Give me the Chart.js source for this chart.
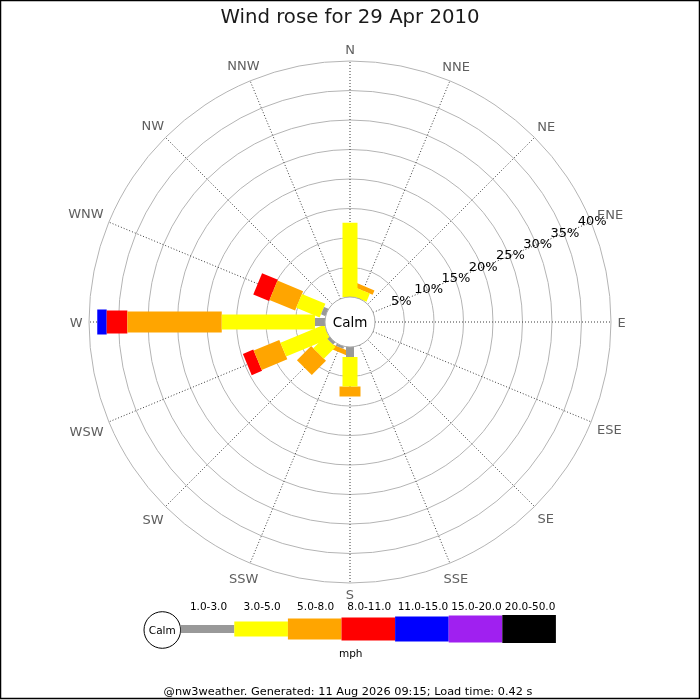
<!DOCTYPE html>
<html><head><meta charset="utf-8">
<script src="https://cdn.jsdelivr.net/npm/chart.js@4.4.1/dist/chart.umd.min.js"></script>
<style>html,body{margin:0;padding:0;background:#fff}canvas{display:block}</style>
</head><body>
<canvas id="c" width="700" height="700"></canvas>
<script>
// ---- data ----
const DIRECTIONS = ['N','NNE','NE','ENE','E','ESE','SE','SSE','S','SSW','SW','WSW','W','WNW','NW','NNW'];
const SPEED_BINS = ['1.0-3.0','3.0-5.0','5.0-8.0','8.0-11.0','11.0-15.0','15.0-20.0','20.0-50.0'];
const PCT_TICKS = [5,10,15,20,25,30,35,40];
//                 N    NNE  NE ENE E ESE SE SSE S    SSW  SW   WSW  W     WNW  NW NNW
const SPEED_1_3   = [0,   0,   0, 0,  0, 0,  0, 0,  1.7, 0.4, 0.5, 0,   1.7,  0.8, 0, 0];
const SPEED_3_5   = [12.6,1.5, 0, 0,  0, 0,  0, 0,  5.0, 0,   2.8, 8.0, 15.8, 4.3, 0, 0];
const SPEED_5_8   = [0,   0.8, 0, 0,  0, 0,  0, 0,  1.7, 0.8, 3.4, 4.7, 16.0, 4.7, 0, 0];
const SPEED_8_11  = [0,   0,   0, 0,  0, 0,  0, 0,  0,   0,   0,   1.9, 3.5,  2.9, 0, 0];
const SPEED_11_15 = [0,   0,   0, 0,  0, 0,  0, 0,  0,   0,   0,   0,   1.6,  0,   0, 0];
const SPEED_15_20 = [0,   0,   0, 0,  0, 0,  0, 0,  0,   0,   0,   0,   0,    0,   0, 0];
const SPEED_20_50 = [0,   0,   0, 0,  0, 0,  0, 0,  0,   0,   0,   0,   0,    0,   0, 0];
const SERIES = [SPEED_1_3, SPEED_3_5, SPEED_5_8, SPEED_8_11, SPEED_11_15, SPEED_15_20, SPEED_20_50];

// ---- style ----
const BIN_COLORS = ['#999999','#ffff00','#ffa500','#ff0000','#0000ff','#a020f0','#000000'];
const BIN_WIDTHS = [8,15,21,23,25,27,28];
const FONT = "'DejaVu Sans', 'Liberation Sans', sans-serif";
const PX_PER_PCT = 5.9;
const CALM_PX = 25;
const TITLE_PAD_TOP = 6, TITLE_SIZE = 19.7;
const TITLE_H = TITLE_PAD_TOP + TITLE_SIZE * 1.2;
const CY = 322, CX = 350;
const HALF = CY - TITLE_H;
const HALF_UNITS = HALF / PX_PER_PCT;
const CALM_UNITS = CALM_PX / PX_PER_PCT;
const MAX_PCT = PCT_TICKS[PCT_TICKS.length - 1];

function polar(i, p) {
  const th = i * Math.PI * 2 / DIRECTIONS.length;
  const r = CALM_UNITS + p;
  return {x: r * Math.sin(th), y: r * Math.cos(th)};
}

const datasets = [];
SERIES.forEach((vals, k) => {
  vals.forEach((v, i) => {
    if (v <= 0) return;
    let start = 0;
    for (let j = 0; j < k; j++) start += SERIES[j][i];
    datasets.push({
      type: 'line',
      label: SPEED_BINS[k] + ' ' + DIRECTIONS[i],
      data: [polar(i, start), polar(i, start + v)],
      borderColor: BIN_COLORS[k],
      backgroundColor: BIN_COLORS[k],
      borderWidth: BIN_WIDTHS[k],
      borderCapStyle: 'butt',
      pointRadius: 0,
      pointHoverRadius: 0,
      fill: false,
      tension: 0
    });
  });
});

function geom(chart) {
  const xs = chart.scales.x, ys = chart.scales.y;
  const cx = xs.getPixelForValue(0), cy = ys.getPixelForValue(0);
  const rpx = p => xs.getPixelForValue(CALM_UNITS + p) - cx;
  return {cx, cy, rpx};
}

const windrose = {
  id: 'windrose',
  beforeDatasetsDraw(chart) {
    const ctx = chart.ctx, g = geom(chart);
    ctx.save();
    ctx.strokeStyle = '#b4b4b4';
    ctx.lineWidth = 1;
    PCT_TICKS.forEach(t => {
      ctx.beginPath();
      ctx.arc(g.cx, g.cy, g.rpx(t), 0, Math.PI * 2);
      ctx.stroke();
    });
    ctx.strokeStyle = '#3a3a3a';
    ctx.setLineDash([1, 2]);
    DIRECTIONS.forEach((d, i) => {
      const th = i * Math.PI * 2 / DIRECTIONS.length;
      const s = Math.sin(th), c = Math.cos(th);
      ctx.beginPath();
      ctx.moveTo(g.cx + g.rpx(0) * s, g.cy - g.rpx(0) * c);
      ctx.lineTo(g.cx + g.rpx(MAX_PCT) * s, g.cy - g.rpx(MAX_PCT) * c);
      ctx.stroke();
    });
    ctx.restore();
  },
  afterDatasetsDraw(chart) {
    const ctx = chart.ctx, g = geom(chart);
    ctx.save();
    // calm circle
    ctx.beginPath();
    ctx.arc(g.cx, g.cy, g.rpx(0), 0, Math.PI * 2);
    ctx.fillStyle = '#fff';
    ctx.fill();
    ctx.strokeStyle = '#aaaaaa';
    ctx.lineWidth = 1;
    ctx.stroke();
    ctx.fillStyle = '#000';
    ctx.textAlign = 'center';
    ctx.textBaseline = 'middle';
    ctx.font = '13.5px ' + FONT;
    ctx.fillText('Calm', g.cx, g.cy + 1);
    // percent labels along ENE
    const thL = 3 * Math.PI * 2 / DIRECTIONS.length;
    ctx.font = '13px ' + FONT;
    PCT_TICKS.forEach(t => {
      const r = g.rpx(t);
      ctx.fillText(t + '%', g.cx + r * Math.sin(thL) + 1, g.cy - r * Math.cos(thL));
    });
    // direction labels
    ctx.fillStyle = '#5f5f5f';
    DIRECTIONS.forEach((d, i) => {
      const th = i * Math.PI * 2 / DIRECTIONS.length;
      const s = Math.sin(th), c = Math.cos(th);
      const hw = ctx.measureText(d).width / 2, hh = 5;
      const r = g.rpx(MAX_PCT) + 6.5 + Math.abs(hw * s) + Math.abs(hh * c);
      ctx.fillText(d, g.cx + r * s, g.cy - r * c + 1.5);
    });
    ctx.restore();
  },
  afterDraw(chart) {
    const ctx = chart.ctx;
    ctx.save();
    // legend
    const lx0 = 180.7, segW = 53.6, ly = 629;
    ctx.beginPath();
    ctx.arc(162.3, 630, 18.3, 0, Math.PI * 2);
    ctx.fillStyle = '#fff';
    ctx.fill();
    ctx.strokeStyle = '#000';
    ctx.lineWidth = 1;
    ctx.stroke();
    ctx.fillStyle = '#000';
    ctx.textAlign = 'center';
    ctx.textBaseline = 'middle';
    ctx.font = '10.5px ' + FONT;
    ctx.fillText('Calm', 162.3, 631);
    SPEED_BINS.forEach((b, k) => {
      const x = lx0 + k * segW;
      ctx.fillStyle = BIN_COLORS[k];
      ctx.fillRect(x, ly - BIN_WIDTHS[k] / 2, segW, BIN_WIDTHS[k]);
      ctx.fillStyle = '#000';
      ctx.fillText(b, x + segW / 2 + 1, 607);
    });
    ctx.fillText('mph', 350.7, 654);
    ctx.font = '11.3px ' + FONT;
    ctx.fillText('@nw3weather. Generated: 11 Aug 2026 09:15; Load time: 0.42 s', 348, 692);
    // border
    ctx.strokeStyle = '#000';
    ctx.lineWidth = 1.5;
    ctx.strokeRect(0.5, 0.5, 699, 698);
    ctx.restore();
  }
};

Chart.defaults.font.family = FONT;
new Chart(document.getElementById('c'), {
  type: 'scatter',
  data: {datasets},
  options: {
    responsive: false,
    animation: false,
    events: [],
    layout: {padding: {top: 0, left: CX - HALF, right: 700 - CX - HALF, bottom: 700 - CY - HALF}},
    scales: {
      x: {type: 'linear', min: -HALF_UNITS, max: HALF_UNITS, display: false},
      y: {type: 'linear', min: -HALF_UNITS, max: HALF_UNITS, display: false}
    },
    plugins: {
      legend: {display: false},
      tooltip: {enabled: false},
      title: {
        display: true,
        text: 'Wind rose for 29 Apr 2010',
        color: '#1a1a1a',
        font: {family: FONT, size: TITLE_SIZE, weight: 'normal'},
        padding: {top: TITLE_PAD_TOP, bottom: 0}
      }
    }
  },
  plugins: [windrose]
});
</script>
</body></html>
